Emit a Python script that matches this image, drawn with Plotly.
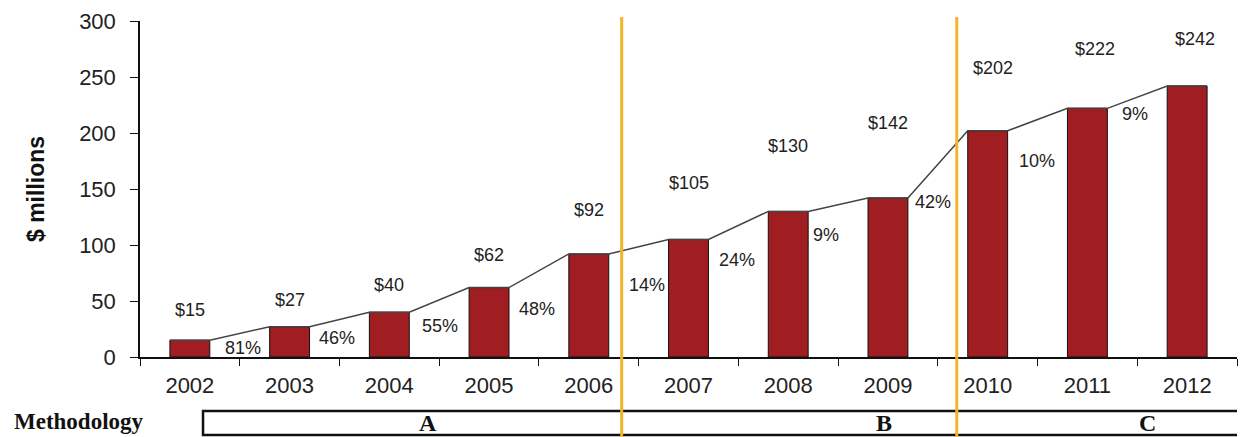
import plotly.graph_objects as go

# Annual totals ($ millions) and year-over-year growth
years = ["2002", "2003", "2004", "2005", "2006", "2007", "2008", "2009", "2010", "2011", "2012"]
values = [15, 27, 40, 62, 92, 105, 130, 142, 202, 222, 242]
growth = ["81%", "46%", "55%", "48%", "14%", "24%", "9%", "42%", "10%", "9%"]
methods = ["A", "B", "C"]

# Layout positions for the text labels (axis units)
value_label_y = [42, 51, 64, 91, 131, 155, 188, 209, 258, 275, 284]
value_label_dx = [0, 0, 0, 0, 0, 0, 0, 0, 0.05, 0.08, 0.08]
growth_label_x = [0.53, 1.48, 2.51, 3.48, 4.58, 5.49, 6.38, 7.45, 8.49, 9.48]
growth_label_y = [8, 17, 28, 43, 64, 87, 109, 138, 175, 217]
method_label_x = [2.39, 6.96, 9.6]
divider_x = [4.33, 7.69]

BAR_W = 0.4
n = len(years)

fig = go.Figure()

fig.add_trace(go.Bar(
    x=years, y=values, width=BAR_W,
    marker=dict(color="#A01D21", line=dict(color="#111111", width=1)),
    showlegend=False, hoverinfo="x+y",
))

# Connector line running along bar tops
lx, ly = [], []
for i, v in enumerate(values):
    lx += [i - BAR_W / 2, i + BAR_W / 2]
    ly += [v, v]
fig.add_trace(go.Scatter(
    x=lx, y=ly, xaxis="x2", mode="lines",
    line=dict(color="#444444", width=1.5),
    showlegend=False, hoverinfo="skip",
))

annotations = []
label_font = dict(family="Liberation Sans, Arial", size=18, color="#222222")
for i, v in enumerate(values):
    annotations.append(dict(
        x=i + value_label_dx[i], y=value_label_y[i], xref="x2", yref="y",
        text=f"${v}", showarrow=False, font=label_font,
        xanchor="center", yanchor="middle",
    ))
for i, g in enumerate(growth):
    annotations.append(dict(
        x=growth_label_x[i], y=growth_label_y[i], xref="x2", yref="y", text=g,
        showarrow=False, font=label_font, xanchor="center", yanchor="middle",
    ))

# Methodology band below the axis
def py(pix):
    return (357 - pix) / 336.0

shapes = [dict(
    type="rect", xref="x2", yref="paper",
    x0=(203 - 140) / 99.7 - 0.5, x1=(1240 - 140) / 99.7 - 0.5,
    y0=py(435), y1=py(411),
    line=dict(color="#111111", width=2.5), fillcolor="white", layer="above",
)]
for dx in divider_x:
    shapes.append(dict(
        type="line", xref="x2", yref="paper", x0=dx, x1=dx,
        y0=py(437), y1=py(17),
        line=dict(color="#F2B42A", width=3), layer="above",
    ))

serif = "Liberation Serif, Times New Roman"
for m, mx in zip(methods, method_label_x):
    annotations.append(dict(
        x=mx, y=py(423), xref="x2", yref="paper", text=f"<b>{m}</b>",
        showarrow=False, xanchor="center", yanchor="middle",
        font=dict(family=serif, size=24, color="#111111"),
    ))
annotations.append(dict(
    x=(79 - 140) / 1097, y=py(421), xref="paper", yref="paper",
    text="<b>Methodology</b>", showarrow=False,
    xanchor="center", yanchor="middle",
    font=dict(family=serif, size=23, color="#111111"),
))

axis_font = dict(family="Liberation Sans, Arial", size=22, color="#222222")
fig.update_layout(
    width=1247, height=437,
    margin=dict(l=140, r=10, t=21, b=80),
    paper_bgcolor="white", plot_bgcolor="white",
    bargap=0.6,
    xaxis=dict(
        type="category", range=[-0.5, n - 0.5],
        tickson="boundaries", ticks="outside", ticklen=7, tickcolor="#111111",
        showline=True, linecolor="#111111", linewidth=1.5,
        showgrid=False, tickfont=axis_font, ticklabelstandoff=8,
        fixedrange=True,
    ),
    xaxis2=dict(
        overlaying="x", range=[-0.5, n - 0.5], visible=False, fixedrange=True,
    ),
    yaxis=dict(
        range=[0, 300], dtick=50, ticks="outside", ticklen=8, tickcolor="#111111",
        showline=True, linecolor="#111111", linewidth=1.5,
        showgrid=False, zeroline=False, tickfont=axis_font, ticklabelstandoff=10,
        title=dict(text="<b>$ millions</b>", standoff=28,
                   font=dict(family="Liberation Sans, Arial", size=23, color="#111111")),
        fixedrange=True,
    ),
    annotations=annotations,
    shapes=shapes,
)

fig.write_html("out.html")
